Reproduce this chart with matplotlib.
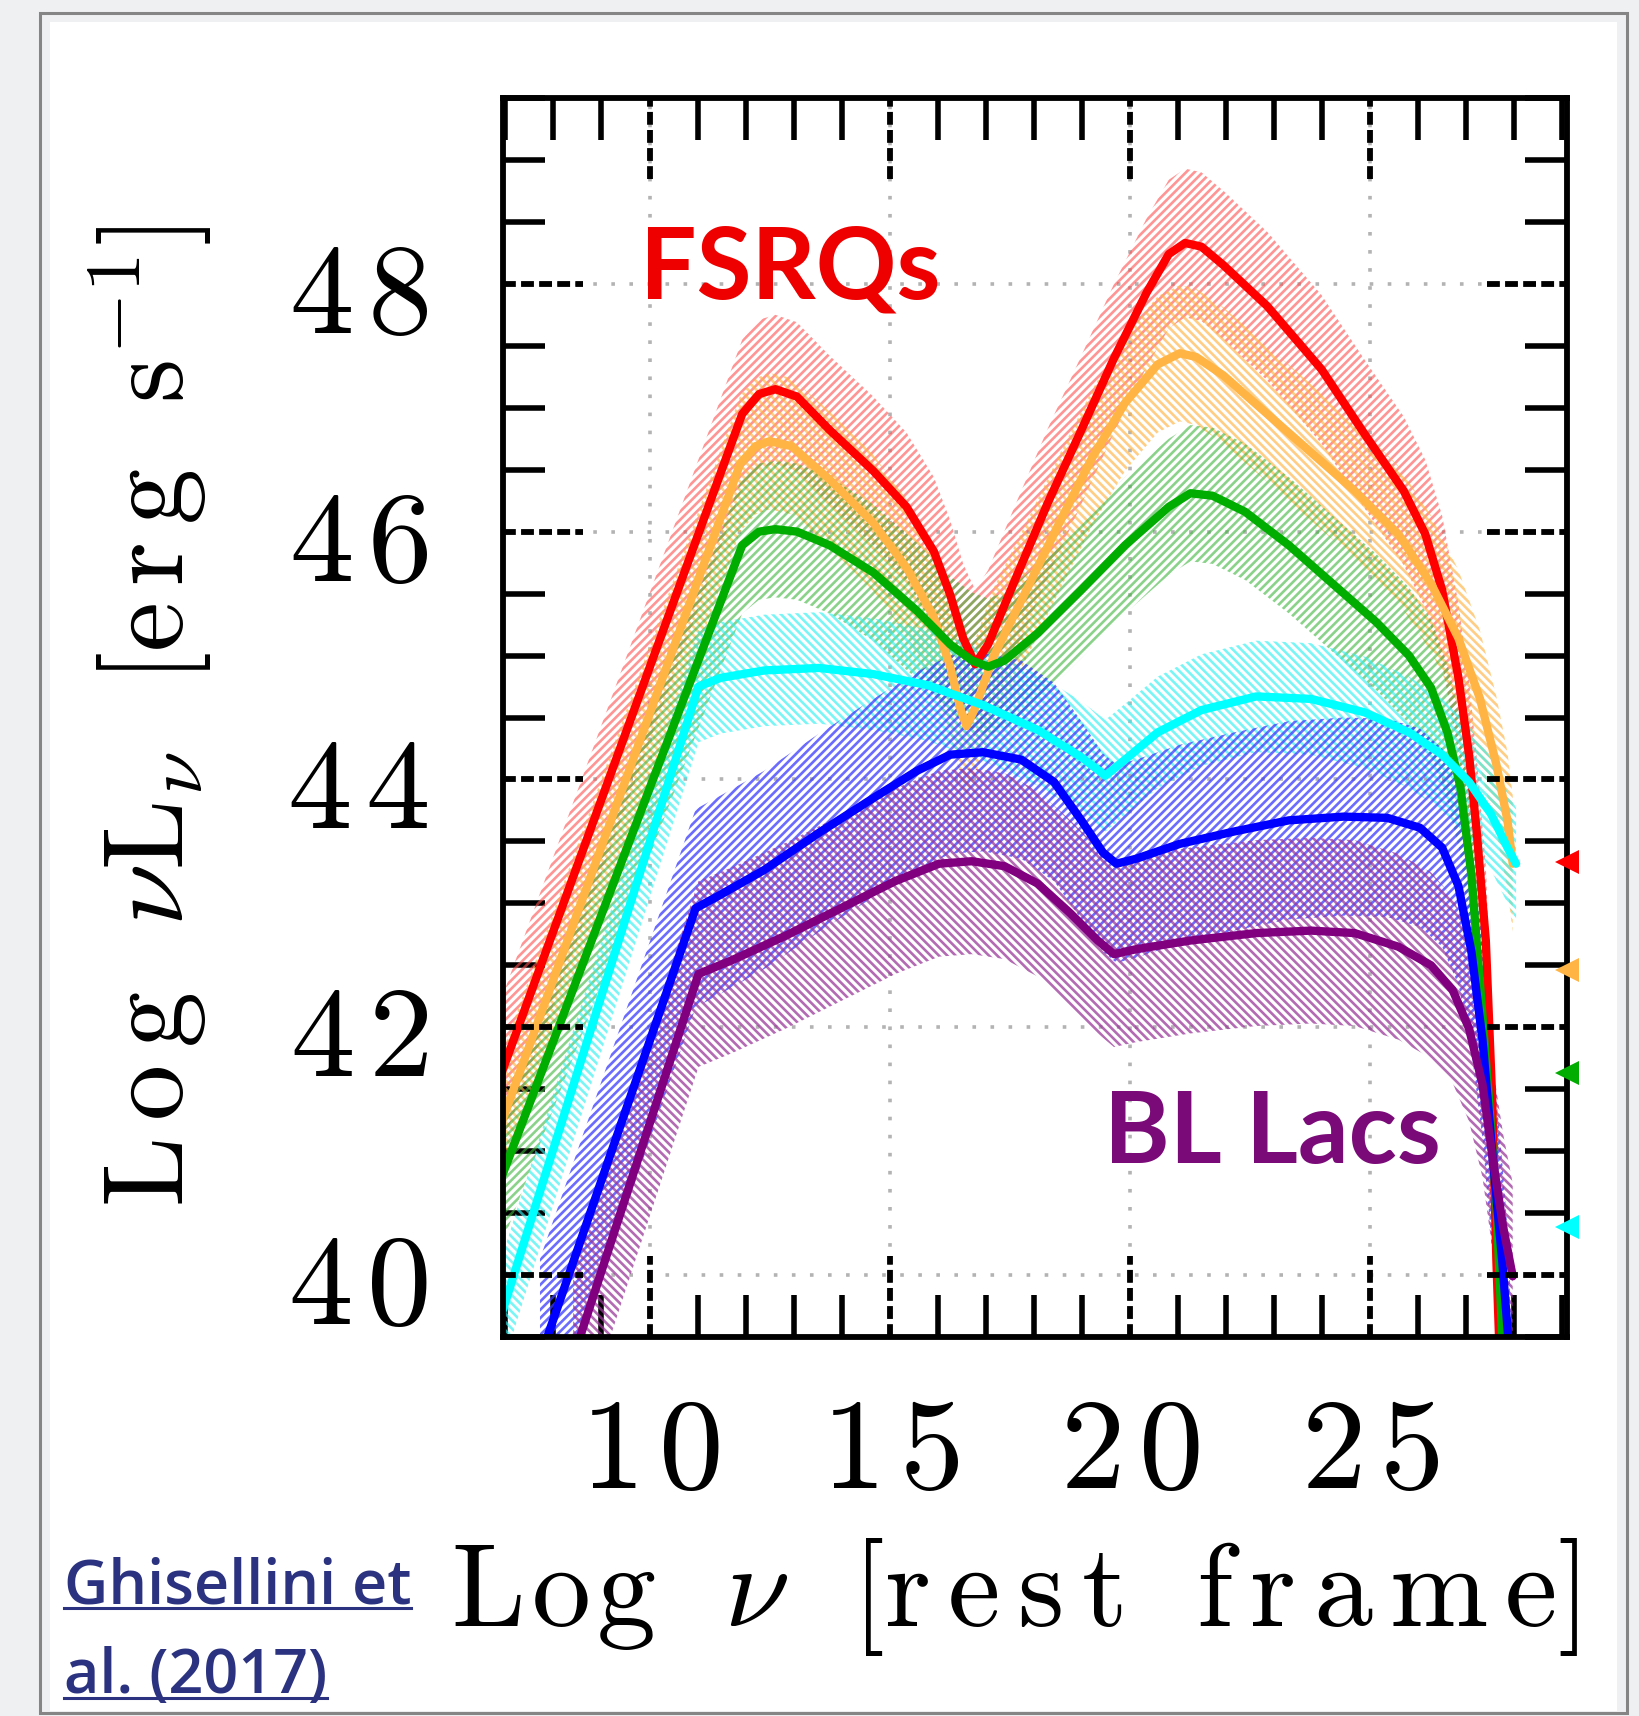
"""Blazar sequence SEDs (Ghisellini et al. 2017) re-drawn with matplotlib."""

import matplotlib

matplotlib.use("Agg")
import matplotlib.pyplot as plt  # noqa: E402
from matplotlib.patches import Rectangle  # noqa: E402
from matplotlib.lines import Line2D  # noqa: E402
from matplotlib.ticker import FixedLocator, FixedFormatter, MultipleLocator  # noqa: E402

plt.rcParams["mathtext.fontset"] = "cm"
plt.rcParams["hatch.linewidth"] = 1.9

# ---- data (log nu, log nuL_nu) ----
red_x = [6.90, 11.93, 12.28, 12.62, 13.07, 13.75, 14.66, 15.35, 15.92, 16.26, 16.53, 16.78,
         17.05, 17.62, 18.30, 18.99, 19.67, 20.35, 20.81, 21.15, 21.49, 21.95, 22.86, 23.99,
         24.90, 25.70, 26.15, 26.50, 26.84, 27.06, 27.22, 27.41, 27.54, 27.63, 27.70]
red_y = [41.61, 46.95, 47.11, 47.15, 47.09, 46.82, 46.49, 46.20, 45.84, 45.49, 45.14, 44.93,
         45.09, 45.62, 46.24, 46.82, 47.40, 47.93, 48.24, 48.33, 48.30, 48.15, 47.82, 47.31,
         46.78, 46.33, 45.98, 45.53, 44.82, 44.20, 43.58, 42.70, 41.45, 40.12, 39.33]

orange_x = [6.90, 11.89, 12.21, 12.50, 12.96, 13.75, 14.66, 15.35, 15.92, 16.26, 16.48, 16.60,
            16.76, 17.17, 17.85, 18.53, 19.22, 19.90, 20.58, 21.04, 21.38, 21.95, 22.86, 23.77,
            24.68, 25.59, 26.27, 26.84, 27.29, 27.63, 27.86, 27.97]
orange_y = [41.21, 46.55, 46.69, 46.73, 46.69, 46.42, 46.07, 45.71, 45.31, 44.91, 44.56, 44.43,
            44.56, 45.00, 45.53, 46.07, 46.60, 47.04, 47.35, 47.44, 47.41, 47.26, 46.95, 46.64,
            46.33, 45.98, 45.58, 45.14, 44.65, 44.12, 43.67, 43.32]

green_x = [6.90, 11.93, 12.28, 12.62, 13.07, 13.75, 14.66, 15.57, 16.26, 16.71, 17.05, 17.39,
           18.08, 18.99, 19.90, 20.81, 21.26, 21.72, 22.40, 23.31, 24.22, 25.13, 25.81, 26.27,
           26.61, 26.88, 27.11, 27.29, 27.47, 27.63, 27.77]
green_y = [40.77, 45.89, 46.00, 46.02, 46.00, 45.89, 45.67, 45.36, 45.09, 44.96, 44.91, 44.96,
           45.18, 45.53, 45.89, 46.20, 46.31, 46.29, 46.16, 45.89, 45.58, 45.27, 45.00, 44.74,
           44.38, 43.94, 43.23, 42.34, 41.45, 40.57, 39.33]

cyan_x = [6.90, 11.02, 11.48, 12.39, 13.53, 14.66, 15.80, 16.94, 18.08, 18.99, 19.49, 19.90,
          20.58, 21.49, 22.63, 23.77, 24.90, 25.81, 26.50, 27.06, 27.52, 27.86, 28.04]
cyan_y = [39.66, 44.75, 44.82, 44.88, 44.90, 44.85, 44.76, 44.60, 44.40, 44.18, 44.03, 44.16,
          44.38, 44.56, 44.67, 44.65, 44.54, 44.38, 44.20, 43.98, 43.72, 43.45, 43.32]

blue_x = [7.72, 10.96, 11.48, 12.39, 13.53, 14.66, 15.57, 16.26, 16.94, 17.74, 18.42, 18.99,
          19.44, 19.72, 20.13, 21.04, 22.17, 23.31, 24.45, 25.36, 26.04, 26.50, 26.84, 27.11,
          27.34, 27.54, 27.75, 27.91]
blue_y = [39.33, 42.96, 43.07, 43.27, 43.57, 43.85, 44.07, 44.20, 44.22, 44.16, 43.98, 43.67,
          43.41, 43.32, 43.36, 43.48, 43.58, 43.67, 43.70, 43.69, 43.61, 43.45, 43.14, 42.61,
          41.90, 41.01, 40.12, 39.33]

purple_x = [8.41, 11.02, 11.71, 12.84, 13.98, 15.12, 16.03, 16.71, 17.39, 18.08, 18.76, 19.33,
            19.67, 20.13, 21.26, 22.63, 23.77, 24.68, 25.59, 26.27, 26.72, 27.06, 27.34, 27.56,
            27.77, 27.97]
purple_y = [39.33, 42.43, 42.54, 42.74, 42.96, 43.18, 43.32, 43.34, 43.30, 43.16, 42.92, 42.70,
            42.59, 42.63, 42.70, 42.76, 42.78, 42.76, 42.65, 42.50, 42.30, 41.99, 41.54, 40.92,
            40.39, 39.99]

# half-width of each hatched band (dex)
band_halfwidth = [0.6, 0.55, 0.55, 0.45, 0.8, 0.75]

series_x = [red_x, orange_x, green_x, cyan_x, blue_x, purple_x]
series_y = [red_y, orange_y, green_y, cyan_y, blue_y, purple_y]
line_colors = ["#ff0000", "#ffb443", "#00ad00", "#00ffff", "#0000ff", "#800080"]
band_colors = ["#ff4d4d", "#ffb443", "#3cb43c", "#33f0f0", "#3a3aff", "#9a3a9a"]
band_alpha = [0.6, 0.65, 0.6, 0.65, 0.75, 0.75]
band_hatches = ["////", "\\\\\\\\", "////", "\\\\\\\\", "////", "\\\\\\\\"]

# coloured markers sitting on the right frame
marker_y = [43.33, 42.46, 41.63, 40.39]
marker_colors = ["#ff0000", "#ffb443", "#00ad00", "#00ffff"]

y_major = [40, 42, 44, 46, 48]
y_labels = ["40", "42", "44", "46", "48"]
x_major = [10, 15, 20, 25]
x_labels = ["10", "15", "20", "25"]

XLIM = (6.95, 29.1)
YLIM = (39.5, 49.5)


def spaced(word, gap=0.12):
    """Computer-Modern digits with a little extra tracking."""
    return "$" + (r"\hspace{%g}" % gap).join(word) + "$"


# ---- figure ----
W, H = 1639, 1716
fig = plt.figure(figsize=(W / 100, H / 100), dpi=100)
fig.patch.set_facecolor("#eff0f2")

# page card: grey outline, light inner strip, white area (behind the axes)
fig.patches.append(Rectangle((40 / W, 1 - 1713 / H), (1627 - 40) / W, (1713 - 13) / H,
                             transform=fig.transFigure, facecolor="#eff0f2",
                             edgecolor="#858585", linewidth=2.2, zorder=-2))
fig.patches.append(Rectangle((50 / W, 1 - 1711 / H), (1617 - 50) / W, (1711 - 22) / H,
                             transform=fig.transFigure, facecolor="white",
                             edgecolor="none", zorder=-1))

ax = fig.add_axes([503 / W, 1 - 1337 / H, (1567 - 503) / W, (1337 - 98) / H])
ax.set_xlim(*XLIM)
ax.set_ylim(*YLIM)

for xs, ys, hw, bc, al, hatch in zip(series_x, series_y, band_halfwidth, band_colors,
                                     band_alpha, band_hatches):
    lo = [v - hw for v in ys]
    hi = [v + hw for v in ys]
    ax.fill_between(xs, lo, hi, facecolor="none", edgecolor=bc, hatch=hatch,
                    linewidth=0, alpha=al, zorder=2)

for xs, ys, c in zip(series_x, series_y, line_colors):
    ax.plot(xs, ys, color=c, linewidth=6.0, solid_capstyle="round",
            solid_joinstyle="round", zorder=4)

for y, c in zip(marker_y, marker_colors):
    ax.plot([XLIM[1]], [y], marker="<", markersize=17, color=c,
            markeredgewidth=0, clip_on=False, zorder=8)

# ticks
ax.xaxis.set_major_locator(FixedLocator(x_major))
ax.xaxis.set_major_formatter(FixedFormatter([spaced(s) for s in x_labels]))
ax.yaxis.set_major_locator(FixedLocator(y_major))
ax.yaxis.set_major_formatter(FixedFormatter([spaced(s) for s in y_labels]))
ax.xaxis.set_minor_locator(MultipleLocator(1))
ax.yaxis.set_minor_locator(MultipleLocator(0.5))
ax.tick_params(which="minor", direction="in", length=30, width=4,
               top=True, right=True, color="black")
ax.tick_params(which="major", direction="in", length=0, labelsize=93)
ax.tick_params(axis="x", which="major", pad=38)
ax.tick_params(axis="y", which="major", pad=54)

ax.grid(True, which="major", color="#b3b3b3", linestyle=(0, (1, 4)), linewidth=2.6,
        zorder=1)
ax.set_axisbelow(True)

# dashed major ticks (drawn as short segments from each frame edge)
dash = (0, (2.2, 0.9))
ytr = ax.get_yaxis_transform()
xtr = ax.get_xaxis_transform()
for v in y_major:
    for a, b in [(0, 0.075), (0.925, 1)]:
        ax.add_line(Line2D([a, b], [v, v], transform=ytr, color="black", linewidth=4.2,
                           linestyle=dash, clip_on=False, zorder=5))
for v in x_major:
    for a, b in [(0, 0.065), (0.935, 1)]:
        ax.add_line(Line2D([v, v], [a, b], transform=xtr, color="black", linewidth=4.2,
                           linestyle=dash, clip_on=False, zorder=5))

for sp in ax.spines.values():
    sp.set_linewidth(4.2)
    sp.set_zorder(7)

# axis labels placed on the figure (letter-spaced like the original)
fig.text(1015 / W, 1 - 1597 / H,
         r"$\mathrm{L\hspace{0.06}o\hspace{0.06}g}\ \ \nu\ \ "
         r"[\mathrm{r\,e\,s\,t}\ \ \mathrm{f\,r\,a\,m\,e}]$",
         fontsize=85, ha="center", va="center")
fig.text(150 / W, 1 - 716 / H,
         r"$\mathrm{L\,o\,g}\ \ \nu\mathrm{L}_\nu\ \ [\mathrm{e\,r\,g}\ \ \mathrm{s}^{-1}]$",
         fontsize=81, ha="center", va="center", rotation=90)

# class annotations
fig.text(790 / W, 1 - 270 / H, "FSRQs", color="#ee0000", fontsize=72,
         fontfamily="Lato", fontweight="bold", ha="center", va="center")
fig.text(1272 / W, 1 - 1135 / H, "BL Lacs", color="#7a0a78", fontsize=72,
         fontfamily="Lato", fontweight="bold", ha="center", va="center")

# citation with underline
cite_color = "#2b3380"
t1 = fig.text(64 / W, 1 - 1603 / H, "Ghisellini et", color=cite_color, fontsize=44,
              fontfamily="Open Sans", fontweight="semibold", ha="left", va="baseline")
t2 = fig.text(64 / W, 1 - 1693 / H, "al. (2017)", color=cite_color, fontsize=44,
              fontfamily="Open Sans", fontweight="semibold", ha="left", va="baseline")
renderer = fig.canvas.get_renderer()
for t, yline in [(t1, 1608), (t2, 1698)]:
    bb = t.get_window_extent(renderer)
    fig.add_artist(Line2D([bb.x0 / W, bb.x1 / W], [1 - yline / H, 1 - yline / H],
                          transform=fig.transFigure, color=cite_color, linewidth=2.2))

fig.savefig("out.png", dpi=100)
plt.close(fig)
